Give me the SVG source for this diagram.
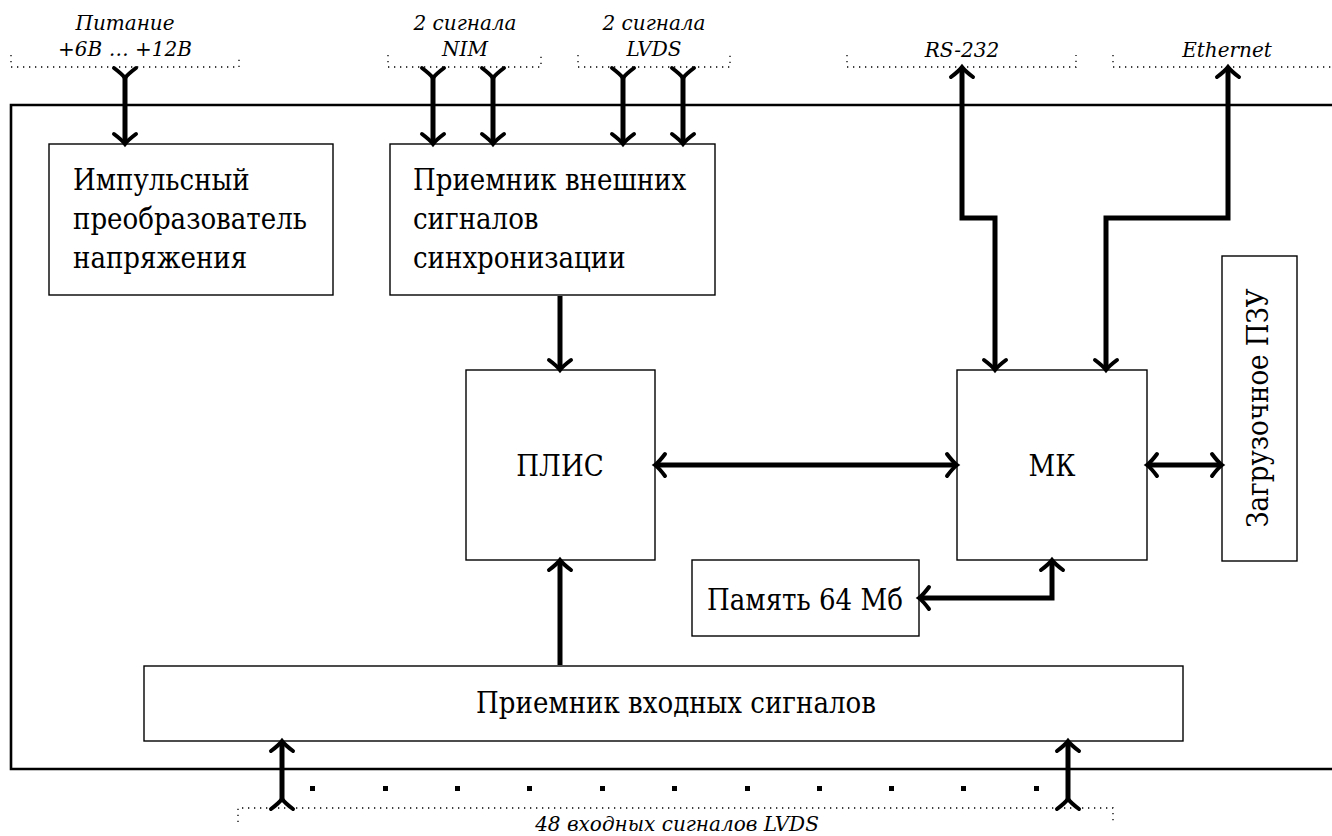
<svg xmlns="http://www.w3.org/2000/svg" width="1332" height="836" viewBox="0 0 1332 836">
<style>
.box{fill:#fff;stroke:#000;stroke-width:1.4}
.t{font-family:'DejaVu Serif Condensed','DejaVu Serif',serif;font-size:29px;fill:#000}
.lbl{font-family:'DejaVu Serif',serif;font-style:italic;font-size:20px;fill:#000}
.ar{fill:none;stroke:#000;stroke-width:5}
.dot{fill:none;stroke:#000;stroke-width:1.3;stroke-dasharray:1.3 4.7}
</style>
<defs>
<marker id="ah" viewBox="-14 -14 28 28" markerWidth="28" markerHeight="28" markerUnits="userSpaceOnUse" refX="0" refY="0" orient="auto-start-reverse">
<path d="M-9,-11 Q-3,-3 1,0 Q-3,3 -9,11" fill="none" stroke="#000" stroke-width="4" stroke-linecap="round"/>
</marker>
<marker id="af" viewBox="-14 -14 28 28" markerWidth="28" markerHeight="28" markerUnits="userSpaceOnUse" refX="0" refY="0" orient="auto">
<path d="M-9,-11 Q-3,-3 1,0 Q-3,3 -9,11" fill="none" stroke="#000" stroke-width="4" stroke-linecap="round"/>
</marker>
</defs>
<rect width="1332" height="836" fill="#fff"/>
<g id="frame">
<path d="M1340,105 H11 V769 H1340" fill="none" stroke="#000" stroke-width="2.6"/>
</g>
<g id="brackets">
<path class="dot" d="M11,55 V67 H239 V55"/>
<path class="dot" d="M388,55 V67 H541 V55"/>
<path class="dot" d="M578,55 V67 H730 V55"/>
<path class="dot" d="M847,55 V67 H1076 V55"/>
<path class="dot" d="M1113,55 V67 H1340"/>
<path class="dot" d="M238,822 V808 H1113 V822"/>
<text class="lbl" x="125" y="30" text-anchor="middle">Питание</text>
<text class="lbl" x="125" y="56" text-anchor="middle">+6В … +12В</text>
<text class="lbl" x="465" y="30" text-anchor="middle">2 сигнала</text>
<text class="lbl" x="465" y="56" text-anchor="middle">NIM</text>
<text class="lbl" x="654" y="30" text-anchor="middle">2 сигнала</text>
<text class="lbl" x="654" y="56" text-anchor="middle">LVDS</text>
<text class="lbl" x="962" y="57" text-anchor="middle">RS-232</text>
<text class="lbl" x="1227" y="57" text-anchor="middle">Ethernet</text>
<text class="lbl" x="677" y="831" text-anchor="middle">48 входных сигналов LVDS</text>
</g>
<g id="dots" fill="#000">
<rect x="310" y="786" width="5" height="5"/>
<rect x="383" y="786" width="5" height="5"/>
<rect x="455" y="786" width="5" height="5"/>
<rect x="527" y="786" width="5" height="5"/>
<rect x="600" y="786" width="5" height="5"/>
<rect x="672" y="786" width="5" height="5"/>
<rect x="745" y="786" width="5" height="5"/>
<rect x="817" y="786" width="5" height="5"/>
<rect x="889" y="786" width="5" height="5"/>
<rect x="961" y="786" width="5" height="5"/>
<rect x="1034" y="786" width="5" height="5"/>
</g>
<g id="n_power">
<rect class="box" x="49" y="144" width="284" height="151"/>
<text class="t" x="73" y="190">Импульсный</text>
<text class="t" x="73" y="229">преобразователь</text>
<text class="t" x="73" y="268">напряжения</text>
</g>
<g id="n_sync">
<rect class="box" x="390" y="144" width="325" height="151"/>
<text class="t" x="413" y="190">Приемник внешних</text>
<text class="t" x="413" y="229">сигналов</text>
<text class="t" x="413" y="268">синхронизации</text>
</g>
<g id="n_fpga">
<rect class="box" x="466" y="370" width="189" height="190"/>
<text class="t" x="560" y="476" text-anchor="middle">ПЛИС</text>
</g>
<g id="n_mk">
<rect class="box" x="957" y="370" width="190" height="190"/>
<text class="t" x="1052" y="476" text-anchor="middle">МК</text>
</g>
<g id="n_rom">
<rect class="box" x="1222" y="256" width="75" height="305"/>
<text class="t" transform="translate(1268,408) rotate(-90)" text-anchor="middle">Загрузочное ПЗУ</text>
</g>
<g id="n_mem">
<rect class="box" x="692" y="560" width="227" height="76"/>
<text class="t" x="805" y="610" text-anchor="middle">Память 64 Мб</text>
</g>
<g id="n_rx">
<rect class="box" x="144" y="666" width="1039" height="75"/>
<text class="t" x="676" y="713" text-anchor="middle">Приемник входных сигналов</text>
</g>
<g id="connectors">
<path class="ar" d="M125,77 V143" marker-start="url(#af)" marker-end="url(#ah)"/>
<path class="ar" d="M433,77 V143" marker-start="url(#af)" marker-end="url(#ah)"/>
<path class="ar" d="M493,77 V143" marker-start="url(#af)" marker-end="url(#ah)"/>
<path class="ar" d="M623,77 V143" marker-start="url(#af)" marker-end="url(#ah)"/>
<path class="ar" d="M683,77 V143" marker-start="url(#af)" marker-end="url(#ah)"/>
<path class="ar" d="M995,369 V218 H962 V68" marker-start="url(#ah)" marker-end="url(#ah)"/>
<path class="ar" d="M1106,369 V218 H1228 V68" marker-start="url(#ah)" marker-end="url(#ah)"/>
<path class="ar" d="M560,296 V369" marker-end="url(#ah)"/>
<path class="ar" d="M656,465 H956" marker-start="url(#ah)" marker-end="url(#ah)"/>
<path class="ar" d="M1148,465 H1221" marker-start="url(#ah)" marker-end="url(#ah)"/>
<path class="ar" d="M1052,561 V598 H920" marker-start="url(#ah)" marker-end="url(#ah)"/>
<path class="ar" d="M560,665 V561" marker-end="url(#ah)"/>
<path class="ar" d="M282,800 V742" marker-start="url(#af)" marker-end="url(#ah)"/>
<path class="ar" d="M1068,800 V742" marker-start="url(#af)" marker-end="url(#ah)"/>
</g>
</svg>
